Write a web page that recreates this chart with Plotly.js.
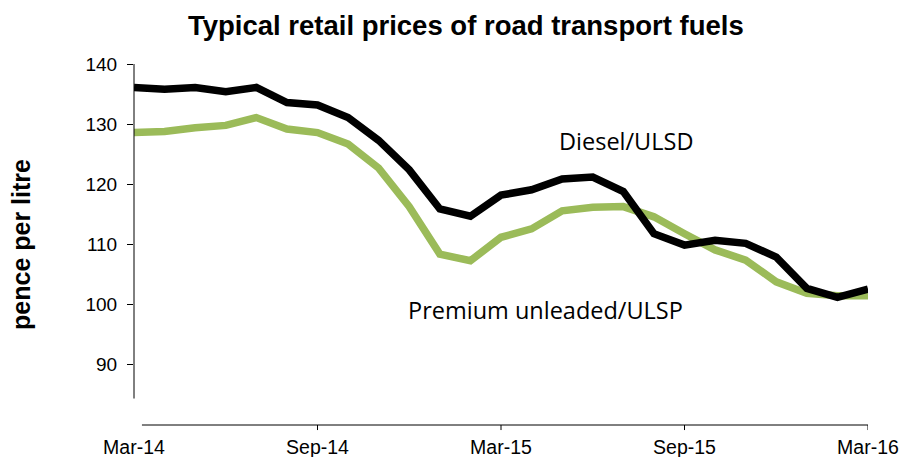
<!DOCTYPE html>
<html>
<head>
<meta charset="utf-8">
<script src="https://cdn.plot.ly/plotly-3.0.1.min.js"></script>
<style>html,body{margin:0;padding:0;background:#fff;}#chart{width:901px;height:457px;}</style>
</head>
<body>
<div id="chart"></div>
<script>
// Months from Mar-14 to Mar-16 (index 0..24)
const months = ["Mar-14","Apr-14","May-14","Jun-14","Jul-14","Aug-14","Sep-14","Oct-14","Nov-14","Dec-14",
  "Jan-15","Feb-15","Mar-15","Apr-15","May-15","Jun-15","Jul-15","Aug-15","Sep-15","Oct-15","Nov-15","Dec-15",
  "Jan-16","Feb-16","Mar-16"];
const diesel = [136.1,135.8,136.1,135.4,136.1,133.6,133.2,131.1,127.3,122.4,115.9,114.7,118.2,119.1,120.9,121.2,118.8,111.8,109.9,110.7,110.2,107.9,102.7,101.2,102.6];
const premium = [128.6,128.8,129.4,129.8,131.1,129.2,128.6,126.7,122.7,116.3,108.4,107.3,111.2,112.6,115.6,116.2,116.3,114.6,111.8,109.1,107.4,103.8,101.9,101.5,101.5];
const tickLabels = ["Mar-14","Sep-14","Mar-15","Sep-15","Mar-16"];
const tickIdx = [0,6,12,18,24];
const yTicks = [90,100,110,120,130,140];

const idx = months.map((m,i)=>i);

const traces = [
  {x: idx, y: premium, type:'scatter', mode:'lines', name:'Premium unleaded/ULSP',
   line:{color:'#9BBB59', width:7.5}, hoverinfo:'skip'},
  {x: idx, y: diesel, type:'scatter', mode:'lines', name:'Diesel/ULSD',
   line:{color:'#000000', width:7.5}, hoverinfo:'skip'}
];

const shapes = [
  // y axis line
  {type:'line', xref:'paper', yref:'y', x0:0, x1:0, y0:84.4, y1:140, line:{color:'#000', width:1}},
  // x axis line
  {type:'line', xref:'x', yref:'paper', x0:0.26, x1:24, y0:0, y1:0, line:{color:'#000', width:1}}
];
tickIdx.slice(1).forEach(function(t){
  shapes.push({type:'line', xref:'x', yref:'paper', x0:t, x1:t, y0:0, y1:-0.014, line:{color:'#000', width:1}});
});

const layout = {
  width:901, height:457,
  margin:{l:134, r:33, t:64, b:32},
  paper_bgcolor:'#fff', plot_bgcolor:'#fff',
  showlegend:false,
  title:{text:'<b>Typical retail prices of road transport fuels</b>',
    font:{family:'Liberation Sans, Arial, sans-serif', size:27.5, color:'#000'},
    x:0.517, xref:'container', xanchor:'center', y:0.945, yref:'container', yanchor:'middle'},
  xaxis:{range:[0,24], tickvals:tickIdx, ticktext:tickLabels, ticks:'', showgrid:false, zeroline:false,
    showline:false, tickfont:{family:'Liberation Sans, Arial, sans-serif', size:19.5, color:'#000'},
    ticklabelstandoff:8},
  yaxis:{range:[80,140], tickvals:yTicks, ticks:'outside', ticklen:6, tickcolor:'#000', tickwidth:1,
    showgrid:false, zeroline:false, showline:false, ticklabelstandoff:6,
    tickfont:{family:'Liberation Sans, Arial, sans-serif', size:19, color:'#000'},
    title:{text:'<b>pence per litre</b>', font:{family:'Liberation Sans, Arial, sans-serif', size:25, color:'#000'}, standoff:47}},
  shapes: shapes,
  annotations:[
    {text:'Diesel/ULSD', xref:'x', yref:'y', x:16.1, y:127.2, showarrow:false, xanchor:'center', yanchor:'middle',
     font:{family:'Open Sans, sans-serif', size:23.5, color:'#000'}},
    {text:'Premium unleaded/ULSP', xref:'x', yref:'y', x:13.44, y:99.1, showarrow:false, xanchor:'center', yanchor:'middle',
     font:{family:'Open Sans, sans-serif', size:23.5, color:'#000'}}
  ]
};

Plotly.newPlot('chart', traces, layout, {displayModeBar:false, staticPlot:true});
</script>
</body>
</html>
